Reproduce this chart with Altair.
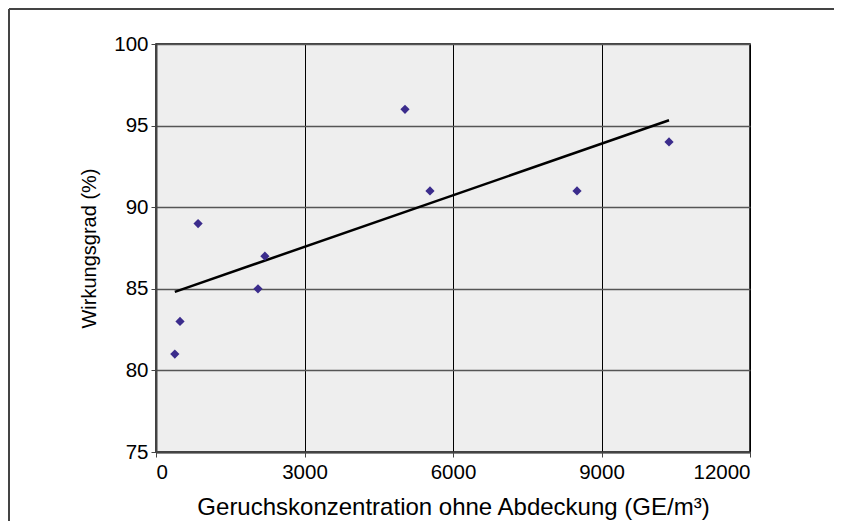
import altair as alt
import pandas as pd

# Data
konzentration = [380, 485, 850, 2060, 2200, 5030, 5535, 8505, 10364]
wirkungsgrad = [81, 83, 89, 85, 87, 96, 91, 91, 94]

x_ticks = [0, 3000, 6000, 9000, 12000]
y_ticks = [75, 80, 85, 90, 95, 100]

df = pd.DataFrame({"x": konzentration, "y": wirkungsgrad})

FONT = "Liberation Sans"
x_title = "Geruchskonzentration ohne Abdeckung (GE/m³)"
y_title = "Wirkungsgrad (%)"

xs = alt.Scale(domain=[0, 12000], nice=False, zero=False)
ys = alt.Scale(domain=[75, 100], nice=False, zero=False)

x_axis = alt.Axis(
    values=x_ticks, title=x_title, grid=True, gridColor="#000000", gridWidth=1,
    domainColor="#444444", domainWidth=2, tickColor="#444444", tickSize=5,
    labelFont=FONT, labelFontSize=20.5, labelColor="#000000", labelPadding=5,
    titleFont=FONT, titleFontSize=24, titleFontWeight="normal", titleColor="#000000",
    titlePadding=13, format="d",
)
y_axis = alt.Axis(
    values=y_ticks, title=y_title, grid=True, gridColor="#555555", gridWidth=1.5,
    domainColor="#444444", domainWidth=2, tickColor="#444444", tickSize=5,
    labelFont=FONT, labelFontSize=20.5, labelColor="#000000", labelPadding=3,
    titleFont=FONT, titleFontSize=20, titleFontWeight="normal", titleColor="#000000",
    titlePadding=14,
)

base = alt.Chart(df)

points = base.mark_point(shape="diamond", filled=True, size=85, color="#3b2c8c", opacity=1).encode(
    x=alt.X("x:Q", scale=xs, axis=x_axis),
    y=alt.Y("y:Q", scale=ys, axis=y_axis),
)

trend = base.transform_regression("x", "y").mark_line(color="#000000", strokeWidth=2.5).encode(
    x=alt.X("x:Q", scale=xs),
    y=alt.Y("y:Q", scale=ys),
)

one = pd.DataFrame({"k": [0]})
frame_left = alt.Chart(one).mark_rule(color="#444444", strokeWidth=2).encode(
    x=alt.value(-147), y=alt.value(-35), y2=alt.value(600)
)
frame_top = alt.Chart(one).mark_rule(color="#444444", strokeWidth=2).encode(
    y=alt.value(-35), x=alt.value(-147), x2=alt.value(700)
)

chart = alt.layer(frame_left, frame_top, trend, points).properties(
    width=594, height=408,
    autosize=alt.AutoSizeParams(type="none"),
    padding={"left": 148, "top": 36, "right": 84, "bottom": 69},
    background="#ffffff",
).configure_view(
    fill="#eeeeee", stroke="#000000", strokeWidth=1.5
)

chart.save("out.html", embed_options={"renderer": "svg", "actions": False})
